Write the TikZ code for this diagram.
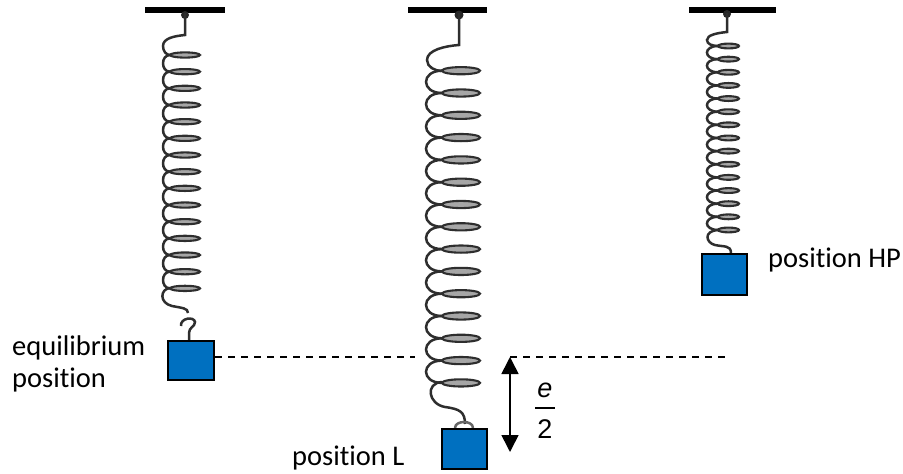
\documentclass[tikz,border=0pt]{standalone}
\usepackage{fontspec}
\setmainfont[Ligatures=NoCommon]{Carlito}
\newfontfamily\arialfont{Liberation Sans}
\usetikzlibrary{arrows.meta,calc}
\definecolor{massblue}{RGB}{0,112,192}
\tikzset{
  wire/.style={line width=2.5pt, draw=black!82},
  loopring/.style={line width=2.1pt, draw=black!82, fill=black!35},
  ceiling/.style={line width=6pt, draw=black},
  knob/.style={fill=black!85},
  mass/.style={draw=black, line width=2pt, fill=massblue, inner sep=0pt},
  lbl/.style={anchor=base west, inner sep=0pt, font=\fontsize{28.5}{30}\selectfont},
  dashline/.style={line width=1.3pt, dash pattern=on 7pt off 6pt},
  dimarrow/.style={line width=1.6pt, {Triangle[width=17pt,length=17pt]}-{Triangle[width=17pt,length=17pt]}}
}
% \coilspring{ellipse center x}{x radius}{y radius}{first y}{spacing}{control x}
\newcommand{\coilspring}[6]{%
  \foreach \k in {0,...,13}{%
    \pgfmathsetmacro{\ya}{#4+\k*#5}%
    \pgfmathsetmacro{\yb}{#4+(\k+1)*#5}%
    \draw[wire] ({#1-#2},\ya) .. controls (#6,\ya) and (#6,\yb) .. ({#1-#2},\yb);
  }%
  \foreach \k in {0,...,14}{%
    \pgfmathsetmacro{\ya}{#4+\k*#5}%
    \draw[loopring] (#1,\ya) ellipse [x radius=#2pt, y radius=#3pt];
  }%
}
\begin{document}
\begin{tikzpicture}[x=1pt,y=-1pt]
\useasboundingbox (0,0) rectangle (903,474);

% ---------- spring 1 (equilibrium) ----------
\draw[ceiling] (145,10) -- (225,10);
\fill[knob] (185,15) circle [radius=4pt];
\draw[wire] (185,13) -- (185,35) .. controls (175,36) and (163,38) .. (163,46) .. controls (163,51) and (166,55) .. (170,55);
\coilspring{185}{15}{2.6}{55}{16.67}{160.7}
\draw[wire] (170,288) .. controls (160,289) and (159,303) .. (172,306) .. controls (182,308) and (188,308) .. (188,313);
\draw[wire] (181,326) .. controls (180,318) and (194,316) .. (195,322) .. controls (195,327) and (189,327) .. (189,333) -- (189,340);
\node[mass, minimum width=46pt, minimum height=39pt] (m1) at (191,360.5) {};

% ---------- spring 2 (position L) ----------
\draw[ceiling] (408,10) -- (487,10);
\fill[knob] (459,15) circle [radius=4.5pt];
\draw[wire] (459,13) -- (459,45) .. controls (445,46) and (427,50) .. (427,60) .. controls (427,67) and (435,71) .. (442,71);
\coilspring{461}{19}{3.6}{70.7}{22.3}{420.7}
\draw[wire] (442,382) .. controls (425,383) and (428,404) .. (445,407) .. controls (460,409) and (465,412) .. (465,424);
\draw[line width=2.5pt, draw=black!60] (455,428) .. controls (455,420) and (473,420) .. (473,428);
\node[mass, minimum width=45pt, minimum height=40pt] (m2) at (464.5,449) {};

% ---------- spring 3 (position HP) ----------
\draw[ceiling] (689,10) -- (776,10);
\fill[knob] (727,14) circle [radius=4pt];
\draw[wire] (727,13) -- (727,32) .. controls (717,33) and (707,35) .. (707,40) .. controls (707,44) and (712,46) .. (718,46);
\coilspring{728.5}{10.5}{2.4}{46}{13.14}{703.3}
\draw[wire] (718,230) .. controls (703,231) and (706,243) .. (715,245) .. controls (724,247) and (731,245) .. (731,253);
\node[mass, minimum width=45pt, minimum height=41pt] (m3) at (724.5,274.5) {};

% ---------- dashed reference line ----------
\coordinate (dL) at (415,357);
\coordinate (dR1) at (510,357);
\coordinate (dR2) at (728,357);
\draw[dashline] (m1.east |- dL) -- (dL);
\draw[dashline] (dR1) -- (dR2);

% ---------- e/2 arrow ----------
\coordinate (aTop) at (510,357);
\coordinate (aBot) at (510,452);
\draw[dimarrow] (aTop) -- (aBot);
\node[anchor=base, inner sep=0pt, font=\arialfont\fontsize{27}{28}\selectfont] (fe) at (545,397) {\textit{e}};
\coordinate (fbL) at (535,408);
\coordinate (fbR) at (555,408);
\draw[line width=1.2pt] (fbL) -- (fbR);
\node[anchor=base, inner sep=0pt, font=\arialfont\fontsize{27}{28}\selectfont] (f2) at (545,438) {2};

% ---------- labels ----------
\node[lbl] (t1) at (12,355) {equilibrium};
\node[lbl] (t2) at (12,387) {position};
\node[lbl] (t3) at (768,267) {position HP};
\node[lbl] (t4) at (292,465) {position L};
\end{tikzpicture}
\end{document}
